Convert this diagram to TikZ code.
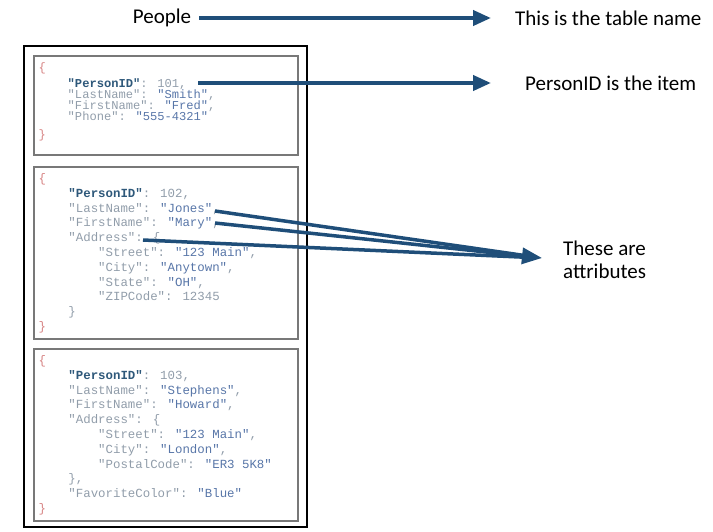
\documentclass[tikz,border=0pt]{standalone}
\usepackage{fontspec}
\setmainfont{Carlito}
\newfontfamily\codefont{Liberation Mono}
\usetikzlibrary{arrows.meta,positioning}

\definecolor{arrowblue}{RGB}{31,78,121}
\definecolor{keygray}{RGB}{145,157,170}
\definecolor{valblue}{RGB}{88,118,168}
\definecolor{idblue}{RGB}{46,88,122}
\definecolor{bracered}{RGB}{214,130,130}
\definecolor{boxgray}{RGB}{120,120,120}

\newcommand{\codenormal}{\codefont\fontsize{12.4}{14.8}\selectfont\lineskiplimit-20pt\relax}
\newcommand{\codetight}{\codefont\fontsize{12.1}{11}\selectfont\lineskiplimit-20pt\relax}
\newcommand{\ind}{\hspace*{2.4em}}
\newcommand{\jkey}[1]{\textcolor{keygray}{"#1":}}
\newcommand{\jval}[1]{\textcolor{valblue}{"#1"}}
\newcommand{\jnum}[1]{\textcolor{keygray}{#1}}
\newcommand{\jid}{\textcolor{idblue}{\bfseries"PersonID"}\textcolor{keygray}{:}}
\newcommand{\jopen}{\textcolor{bracered}{\{}}
\newcommand{\jclose}{\textcolor{bracered}{\}}}

\begin{document}
\begin{tikzpicture}[x=1pt,y=-1pt,
            note/.style={font=\fontsize{21}{23.5}\selectfont,inner sep=0pt},
            code/.style={font=\codenormal,align=left,inner sep=0pt,anchor=base west},
            itembox/.style={draw=boxgray,line width=1.3pt},
            pointer/.style={draw=arrowblue,line width=4pt,-{Triangle[length=18pt,width=15pt]}},
            attrline/.style={draw=arrowblue,line width=3.5pt}]

        \useasboundingbox (0,0) rectangle (713,531);

        % Table and item boxes
        \draw[line width=1.8pt] (24,46) rectangle (307,527);
        \draw[itembox] (34,56) rectangle (298,155);
        \draw[itembox] (34,167) rectangle (298,339);
        \draw[itembox] (34,349) rectangle (298,521);

        % Define items (base is the last line)
        \node[code,font=\codetight] (p1) at (38.5,138.5) {\jopen\\[5pt]
            \ind\jid{} \jnum{101,}\\
            \ind\jkey{LastName} \jval{Smith}\jnum{,}\\
            \ind\jkey{FirstName} \jval{Fred}\jnum{,}\\
            \ind\jkey{Phone} \jval{555-4321}\\[7pt]
            \jclose};
        \node[code] (p2) at (38.5,330.5) {\jopen\\
            \ind\jid{} \jnum{102,}\\
            \ind\jkey{LastName} \jval{Jones}\jnum{,}\\
            \ind\jkey{FirstName} \jval{Mary}\jnum{,}\\
            \ind\jkey{Address} \jnum{\{}\\
            \ind\ind\jkey{Street} \jval{123 Main}\jnum{,}\\
            \ind\ind\jkey{City} \jval{Anytown}\jnum{,}\\
            \ind\ind\jkey{State} \jval{OH}\jnum{,}\\
            \ind\ind\jkey{ZIPCode} \jnum{12345}\\
            \ind\jnum{\}}\\
            \jclose};
        \node[code] (p3) at (38.5,512.5) {\jopen\\
            \ind\jid{} \jnum{103,}\\
            \ind\jkey{LastName} \jval{Stephens}\jnum{,}\\
            \ind\jkey{FirstName} \jval{Howard}\jnum{,}\\
            \ind\jkey{Address} \jnum{\{}\\
            \ind\ind\jkey{Street} \jval{123 Main}\jnum{,}\\
            \ind\ind\jkey{City} \jval{London}\jnum{,}\\
            \ind\ind\jkey{PostalCode} \jval{ER3 5K8}\\
            \ind\jnum{\},}\\
            \ind\jkey{FavoriteColor} \jval{Blue}\\
            \jclose};

        % Define notes
        \node[note] (people) at (162,18) {People};
        \node[note,anchor=west] (tablename) at (515,18) {This is the table name};
        \node[note,anchor=west] (itemnote) at (525,83) {PersonID is the item};
        \node[note,anchor=west,align=left] (attrnote) at (563,260) {These are\\attributes};

        \coordinate (id101) at (198,83);
        \coordinate (jones) at (215,211);
        \coordinate (mary) at (215,223);
        \coordinate (address) at (143,240);
        \coordinate (attrtip) at (542,258);

        % Draw arrows
        \path[pointer] (people.east) ++(8,0) -- ([xshift=-24pt]tablename.west);
        \path[pointer] (id101) -- ([xshift=-34pt]itemnote.west);
        \path[attrline,shorten >=14pt] (jones) -- (attrtip);
        \path[attrline,shorten >=14pt] (address) -- (attrtip);
        \path[attrline,-{Triangle[length=20pt,width=16pt]}] (mary) -- (attrtip);

        \end{tikzpicture}
\end{document}
